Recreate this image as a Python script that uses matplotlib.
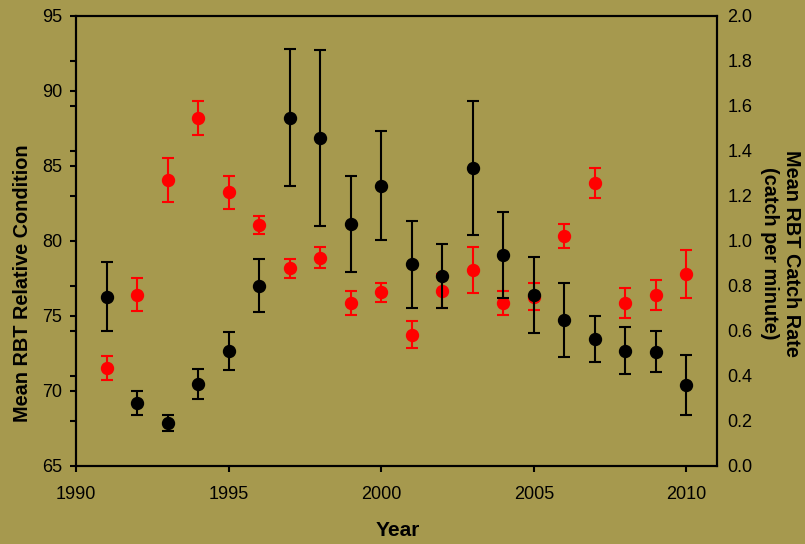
import matplotlib
matplotlib.use("Agg")
import matplotlib.pyplot as plt
from matplotlib.ticker import FixedLocator, FormatStrFormatter

plt.rcParams['font.family'] = ['Liberation Sans', 'DejaVu Sans']

years = list(range(1991, 2011))

# relative condition (left axis, red)
condition = [71.55, 76.41, 84.03, 88.18, 83.23, 81.05, 78.17, 78.88, 75.84, 76.57,
             73.75, 76.64, 78.06, 75.84, 76.28, 80.34, 83.83, 75.89, 76.37, 77.79]
condition_err = [0.79, 1.11, 1.46, 1.15, 1.12, 0.62, 0.63, 0.68, 0.80, 0.65,
                 0.89, 1.12, 1.53, 0.81, 0.91, 0.80, 1.00, 1.00, 0.99, 1.58]

# catch rate (right axis, black)
catch_rate = [0.752, 0.280, 0.192, 0.363, 0.509, 0.801, 1.546, 1.458, 1.073, 1.245,
              0.896, 0.844, 1.322, 0.937, 0.759, 0.648, 0.564, 0.512, 0.508, 0.360]
catch_err = [0.153, 0.054, 0.036, 0.067, 0.084, 0.119, 0.304, 0.390, 0.213, 0.241,
             0.193, 0.143, 0.297, 0.193, 0.168, 0.163, 0.104, 0.105, 0.090, 0.134]

bg = '#A6994E'

fig = plt.figure(figsize=(8.05, 5.44), dpi=100, facecolor=bg)
ax = fig.add_axes([0.0944, 0.1434, 0.7963, 0.8277])
ax.set_facecolor(bg)
ax2 = ax.twinx()

ax.errorbar(years, condition, yerr=condition_err, fmt='o', color='#FF0000',
            ms=8.6, elinewidth=1.5, capsize=4.5, capthick=1.5)
ax2.errorbar(years, catch_rate, yerr=catch_err, fmt='o', color='black',
             ms=8.6, elinewidth=1.5, capsize=4.5, capthick=1.5)

ax.set_xlim(1990, 2011)
ax.set_ylim(65, 95)
ax2.set_ylim(0, 2.0)

ax.set_xticks([1990, 1995, 2000, 2005, 2010])
ax.set_yticks([65, 70, 75, 80, 85, 90, 95])
ax.yaxis.set_minor_locator(FixedLocator([68, 71, 74, 77, 83, 86, 89, 92]))
ax2.set_yticks([0.0, 0.2, 0.4, 0.6, 0.8, 1.0, 1.2, 1.4, 1.6, 1.8, 2.0])
ax2.yaxis.set_major_formatter(FormatStrFormatter('%.1f'))

ax.tick_params(axis='x', direction='out', length=4.6, width=1.5, pad=10, labelsize=13)
ax.tick_params(axis='y', which='major', direction='out', length=4.3, width=1.5, pad=5.5, labelsize=13)
ax.tick_params(axis='y', which='minor', direction='out', length=4.3, width=1.5)
ax2.tick_params(axis='y', length=0, pad=7.5, labelsize=13)

for a in (ax, ax2):
    for s in a.spines.values():
        s.set_linewidth(1.5)

fig.text(0.028, 0.479, 'Mean RBT Relative Condition', rotation=90, ha='center', va='center',
         fontsize=14.3, fontweight='bold')
fig.text(0.969, 0.535, 'Mean RBT Catch Rate\n(catch per minute)', rotation=270, ha='center',
         va='center', fontsize=14.3, fontweight='bold', multialignment='center')
fig.text(0.494, 0.024, 'Year', ha='center', va='center', fontsize=15, fontweight='bold')

fig.savefig('out.png', dpi=100, facecolor=bg)
